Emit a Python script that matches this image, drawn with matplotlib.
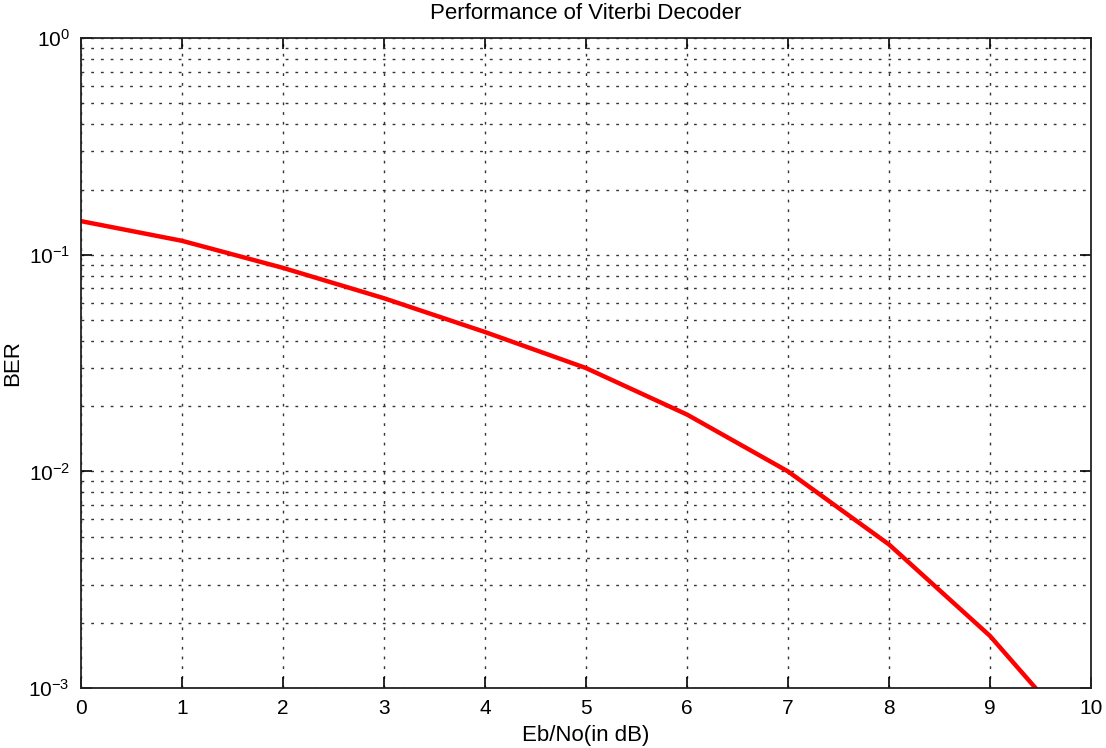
import matplotlib
matplotlib.use("Agg")
import matplotlib.pyplot as plt
from matplotlib.ticker import LogLocator, NullFormatter

# Viterbi decoder BER values
ebno = [0, 1, 2, 3, 4, 5, 6, 7, 8, 9, 10]
ber = [0.143, 0.116, 0.087, 0.063, 0.044, 0.030, 0.0183, 0.0100, 0.0046, 0.00174, 0.00051]

plt.rcParams['font.family'] = ['Liberation Sans', 'DejaVu Sans']

fig = plt.figure(figsize=(11.06, 7.48), dpi=100)
ax = fig.add_axes([0.0732, 0.0802, 0.9132, 0.8688])

ax.plot(ebno, ber, color='#ff0000', lw=3.2, solid_capstyle='butt')

ax.set_yscale('log')
ax.set_xlim(0, 10)
ax.set_ylim(1e-3, 1)
ax.set_xticks(range(11))
ax.yaxis.set_major_locator(LogLocator(base=10, numticks=10))
ax.yaxis.set_minor_locator(LogLocator(base=10, subs=range(2, 10), numticks=20))
ax.yaxis.set_minor_formatter(NullFormatter())

grid_style = dict(color='#333333', lw=1.0, linestyle=(0, (2, 5)))
ax.grid(True, which='major', axis='both', **grid_style)
ax.grid(True, which='minor', axis='y', **grid_style)

ax.tick_params(which='major', direction='in', length=8, width=1.2, top=True,
               right=True, labelsize=15, pad=8)
ax.tick_params(which='minor', length=0)
for s in ax.spines.values():
    s.set_linewidth(1.3)
    s.set_color('#222222')

ax.set_title('Performance of Viterbi Decoder', fontsize=16, pad=14)
ax.set_xlabel('Eb/No(in dB)', fontsize=16, labelpad=5)
ax.set_ylabel('BER', fontsize=16, labelpad=4)

fig.savefig('out.png', dpi=100)
